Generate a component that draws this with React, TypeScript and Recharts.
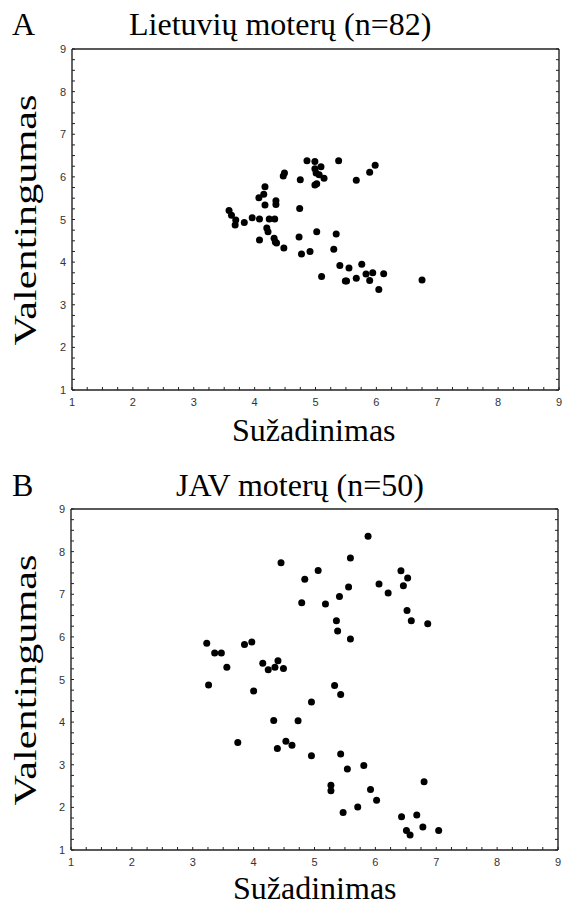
import React from "react";
import { ScatterChart, Scatter, XAxis, YAxis } from "recharts";

// Panel A: Lietuvių moterų
const ltArousal = [
  4.86, 4.99, 5.38, 5.09, 5.98, 4.99, 5.89, 4.49, 4.47, 5.01, 5.06, 5.14, 4.75, 5.67, 4.99,
  5.02, 4.17, 4.15, 4.07, 4.35, 4.35, 4.17, 4.74, 3.58, 3.62, 3.69, 3.68, 3.83, 3.96, 4.08,
  4.24, 4.33, 4.2, 4.22, 4.08, 4.32, 4.34, 4.36, 4.48, 4.73, 5.02, 5.34, 4.77, 4.91, 5.3,
  5.4, 5.55, 5.76, 5.83, 5.94, 6.12, 5.1, 5.49, 5.51, 5.67, 5.89, 6.04, 6.75,
];
const ltValence = [
  6.38, 6.36, 6.38, 6.24, 6.27, 6.19, 6.11, 6.09, 6.02, 6.09, 6.05, 5.97, 5.93, 5.92, 5.81,
  5.84, 5.77, 5.59, 5.51, 5.44, 5.35, 5.34, 5.26, 5.21, 5.1, 4.99, 4.87, 4.93, 5.04, 5.01,
  5.01, 5.01, 4.8, 4.71, 4.52, 4.56, 4.47, 4.45, 4.33, 4.59, 4.71, 4.66, 4.19, 4.25, 4.3,
  3.92, 3.86, 3.95, 3.72, 3.75, 3.73, 3.66, 3.56, 3.56, 3.62, 3.57, 3.36, 3.58,
];

// Panel B: JAV moterų
const usArousal = [
  3.23, 3.26, 3.36, 3.47, 3.56, 3.85, 3.97, 4.0, 4.15, 4.24, 4.35, 4.4, 4.49, 4.45, 4.33,
  4.73, 3.74, 4.39, 4.53, 4.63, 5.88, 5.59, 5.06, 4.84, 6.42, 6.53, 6.06, 6.46, 5.56, 6.21,
  5.41, 4.79, 5.18, 6.52, 5.36, 6.59, 6.86, 5.38, 5.59, 5.33, 5.43, 4.95, 4.95, 5.43, 5.54,
  5.81, 5.27, 5.27, 5.92, 6.8, 6.02, 5.47, 5.71, 6.43, 6.68, 6.51, 6.57, 6.78, 7.04,
];
const usValence = [
  5.85, 4.87, 5.62, 5.62, 5.29, 5.82, 5.88, 4.73, 5.38, 5.23, 5.29, 5.44, 5.26, 7.74, 4.04,
  4.03, 3.52, 3.38, 3.55, 3.46, 8.36, 7.85, 7.56, 7.35, 7.55, 7.38, 7.24, 7.2, 7.17, 7.03,
  6.95, 6.8, 6.77, 6.62, 6.38, 6.38, 6.31, 6.14, 5.95, 4.86, 4.65, 4.47, 3.21, 3.25, 2.9,
  2.98, 2.52, 2.39, 2.42, 2.6, 2.17, 1.88, 2.01, 1.78, 1.82, 1.46, 1.35, 1.54, 1.46,
];

const majorTicks = [1, 2, 3, 4, 5, 6, 7, 8, 9];
const minorTicks = Array.from({ length: 33 }, (_, i) => 1 + i * 0.25);

const toPoints = (xs: number[], ys: number[]) => xs.map((x, i) => ({ x, y: ys[i] }));

const AXIS = "#222";
const TICK_FONT = "'Liberation Sans', Arial, sans-serif";
const SERIF = "'Liberation Serif', 'Times New Roman', serif";

const makeTick = (side: "bottom" | "top" | "left" | "right") => (props: any) => {
  const { x, y, payload } = props;
  const v = payload.value;
  const major = majorTicks.includes(v);
  const len = 3;
  let line;
  if (side === "bottom") line = <line x1={x} y1={y} x2={x} y2={y - len} stroke={AXIS} />;
  else if (side === "top") line = <line x1={x} y1={y} x2={x} y2={y + len} stroke={AXIS} />;
  else if (side === "left") line = <line x1={x} y1={y} x2={x + len} y2={y} stroke={AXIS} />;
  else line = <line x1={x} y1={y} x2={x - len} y2={y} stroke={AXIS} />;
  let label = null;
  if (major && side === "bottom")
    label = (
      <text x={x} y={y + 16} textAnchor="middle" fontSize={11} fontFamily={TICK_FONT} fill="#333">
        {v}
      </text>
    );
  if (major && side === "left")
    label = (
      <text x={x - 6} y={y + 4} textAnchor="end" fontSize={11} fontFamily={TICK_FONT} fill="#333">
        {v}
      </text>
    );
  return (
    <g>
      {line}
      {label}
    </g>
  );
};

const Dot = (p: any) => <circle cx={p.cx} cy={p.cy} r={3.5} fill="#000" />;

// plot box: left/top/right/bottom edges in chart coordinates
const Panel = ({
  data,
  height,
  box,
}: {
  data: { x: number; y: number }[];
  height: number;
  box: { left: number; top: number; right: number; bottom: number };
}) => (
  <ScatterChart
    width={563}
    height={height}
    margin={{ top: box.top - 2, left: box.left - 30, right: 563 - box.right - 2, bottom: height - box.bottom - 30 }}
  >
    <XAxis
      xAxisId="b"
      type="number"
      dataKey="x"
      domain={[1, 9]}
      ticks={minorTicks}
      interval={0}
      height={30}
      tickSize={0}
      tickMargin={0}
      tickLine={false}
      axisLine={{ stroke: AXIS, strokeWidth: 1.4 }}
      tick={makeTick("bottom")}
      allowDataOverflow
    />
    <XAxis
      xAxisId="t"
      orientation="top"
      type="number"
      domain={[1, 9]}
      ticks={minorTicks}
      interval={0}
      height={2}
      tickSize={0}
      tickMargin={0}
      tickLine={false}
      axisLine={{ stroke: AXIS, strokeWidth: 1.4 }}
      tick={makeTick("top")}
      allowDataOverflow
    />
    <YAxis
      yAxisId="l"
      type="number"
      dataKey="y"
      domain={[1, 9]}
      ticks={minorTicks}
      interval={0}
      width={30}
      tickSize={0}
      tickMargin={0}
      tickLine={false}
      axisLine={{ stroke: AXIS, strokeWidth: 1.4 }}
      tick={makeTick("left")}
      allowDataOverflow
    />
    <YAxis
      yAxisId="r"
      orientation="right"
      type="number"
      domain={[1, 9]}
      ticks={minorTicks}
      interval={0}
      width={2}
      tickSize={0}
      tickMargin={0}
      tickLine={false}
      axisLine={{ stroke: AXIS, strokeWidth: 1.4 }}
      tick={makeTick("right")}
      allowDataOverflow
    />
    <Scatter data={data} xAxisId="b" yAxisId="l" shape={Dot} isAnimationActive={false} />
  </ScatterChart>
);

export default function App() {
  return (
    <div style={{ position: "absolute", left: 0, top: 0, width: 563, height: 906, background: "#fff", overflow: "hidden" }}>
      <div style={{ position: "absolute", left: 0, top: 0 }}>
        <Panel data={toPoints(ltArousal, ltValence)} height={450} box={{ left: 72, top: 49, right: 559, bottom: 390 }} />
      </div>
      <div style={{ position: "absolute", left: 0, top: 460 }}>
        <Panel data={toPoints(usArousal, usValence)} height={446} box={{ left: 71, top: 49, right: 558, bottom: 390 }} />
      </div>
      <svg width={563} height={906} style={{ position: "absolute", left: 0, top: 0, pointerEvents: "none" }}>
        <g fontFamily={SERIF} fontSize={32} fill="#000">
          <text x={12} y={35}>A</text>
          <text x={129} y={35}>Lietuvių moterų (n=82)</text>
          <text x={232} y={441}>Sužadinimas</text>
          <text transform="translate(36,220) rotate(-90) scale(1.32,1)" textAnchor="middle">Valentingumas</text>
          <text x={12} y={496}>B</text>
          <text x={176} y={496}>JAV moterų (n=50)</text>
          <text x={233} y={899}>Sužadinimas</text>
          <text transform="translate(36,680) rotate(-90) scale(1.32,1)" textAnchor="middle">Valentingumas</text>
        </g>
      </svg>
    </div>
  );
}
